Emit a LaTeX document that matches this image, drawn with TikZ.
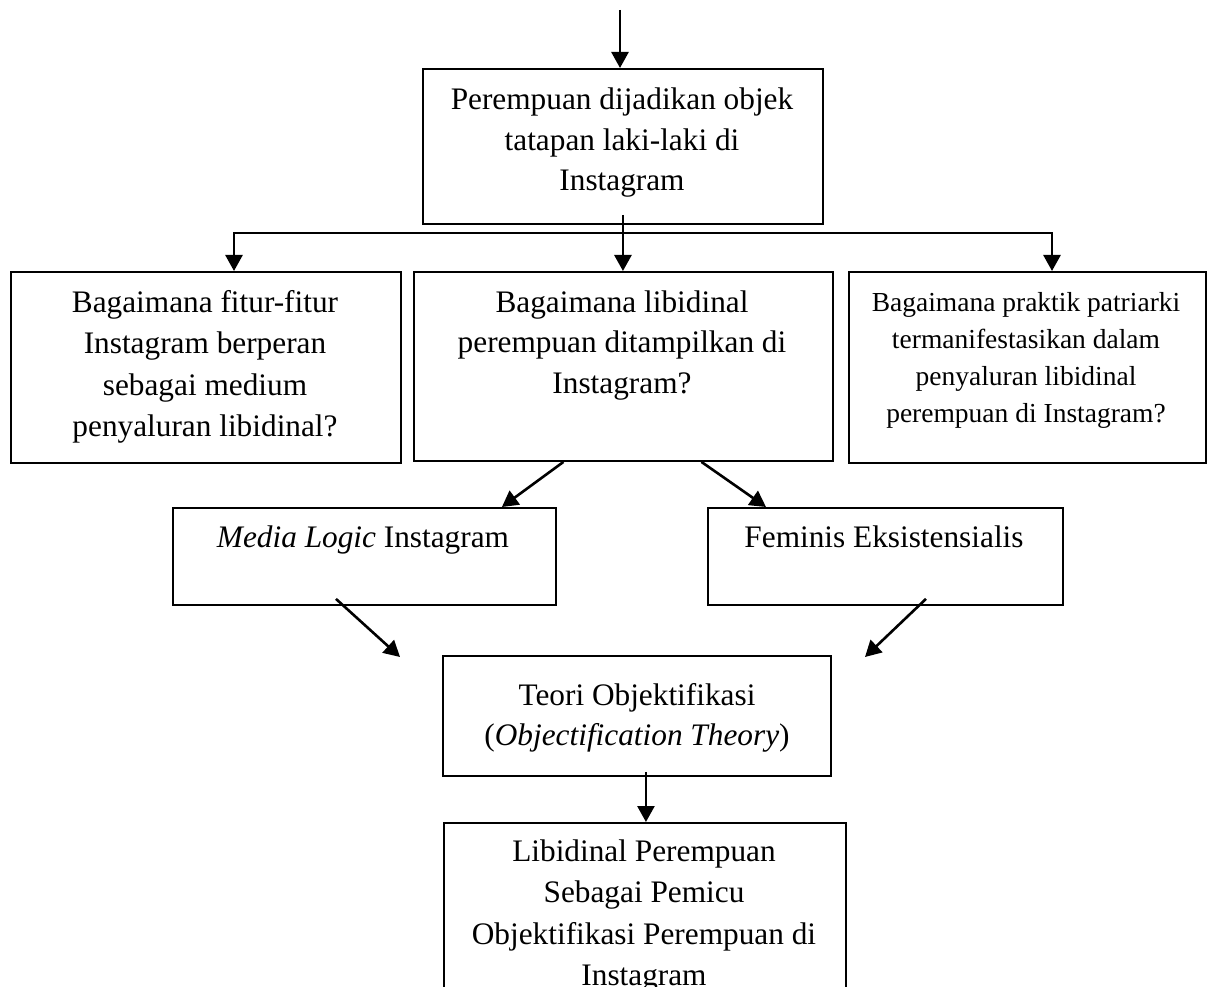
\documentclass[tikz,border=0pt]{standalone}
\usepackage{fontspec}
\setmainfont{Liberation Serif}
\usetikzlibrary{arrows.meta}
\begin{document}
\begin{tikzpicture}[x=1pt,y=-1pt,
 box/.style={draw=black, line width=1.9pt, rectangle, anchor=north west, inner sep=0pt},
 txt/.style={align=center, anchor=base, inner sep=0pt, font=\fontsize{31.3}{40.5}\selectfont},
 txtb/.style={align=center, anchor=base, inner sep=0pt, font=\fontsize{31.3}{41.5}\selectfont},
 txts/.style={align=center, anchor=base, inner sep=0pt, font=\fontsize{27.5}{36.7}\selectfont},
 arr/.style={line width=2.6pt, -{Triangle[length=16pt,width=17pt]}},
 arr2/.style={line width=2.6pt, {Triangle[length=16pt,width=17pt]}-{Triangle[length=16pt,width=17pt]}},
]
\clip (0,0) rectangle (1227,987);
\fill[white] (0,0) rectangle (1227,987);

% boxes
\node[box, minimum width=400pt, minimum height=155pt] (A) at (422,68) {};
\node[box, minimum width=390pt, minimum height=191pt] (B) at (10,271) {};
\node[box, minimum width=419pt, minimum height=189pt] (C) at (413,271) {};
\node[box, minimum width=357pt, minimum height=191pt] (D) at (848,271) {};
\node[box, minimum width=383pt, minimum height=97pt] (E) at (172,507) {};
\node[box, minimum width=355pt, minimum height=97pt] (F) at (707,507) {};
\node[box, minimum width=388pt, minimum height=120pt] (H) at (442,655) {};
\node[box, minimum width=402pt, minimum height=220pt] (G) at (443,822) {};

% texts (anchor = baseline of last line)
\node[txt] (At) at (622,191) {Perempuan dijadikan objek\\tatapan laki-laki di\\Instagram};
\node[txtb] (Bt) at (205,436.5) {Bagaimana fitur-fitur\\Instagram berperan\\sebagai medium\\penyaluran libidinal?};
\node[txt] (Ct) at (622,393) {Bagaimana libidinal\\perempuan ditampilkan di\\Instagram?};
\node[txts] (Dt) at (1026,422) {Bagaimana praktik patriarki\\termanifestasikan dalam\\penyaluran libidinal\\perempuan di Instagram?};
\node[txt] (Et) at (363,547) {\textit{Media Logic} Instagram};
\node[txt] (Ft) at (884,547) {Feminis Eksistensialis};
\node[txt] (Ht) at (637,745.5) {Teori Objektifikasi\\(\textit{Objectification Theory})};
\node[txtb] (Gt) at (644,985.5) {Libidinal Perempuan\\Sebagai Pemicu\\Objektifikasi Perempuan di\\Instagram};

% connectors
\coordinate (top) at (620,10);
\draw[arr] (top) -- (top |- A.north);
\draw[arr] ([yshift=10pt]A.south) -- (A.south |- C.north);
\coordinate (bl) at (234,233);
\coordinate (br) at (1052,233);
\draw[arr2, line join=miter] (bl |- B.north) -- (bl) -- (br) -- (br |- D.north);
\draw[arr] ([xshift=-60pt]C.south) -- ([xshift=-55pt]E.north east);
\draw[arr] ([xshift=78pt]C.south) -- ([xshift=59pt]F.north west);
\coordinate (eh1) at (400,657);
\coordinate (eh2) at (865,657);
\draw[arr] ([xshift=-28.5pt,yshift=7pt]E.south) -- (eh1);
\draw[arr] ([xshift=40.5pt,yshift=7pt]F.south) -- (eh2);
\draw[arr] ([xshift=9pt,yshift=5pt]H.south) -- ([xshift=9pt]H.south |- G.north);
\end{tikzpicture}
\end{document}
